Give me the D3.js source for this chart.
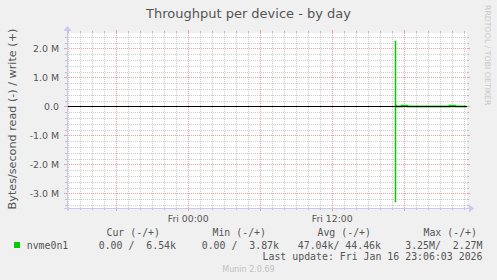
<!DOCTYPE html>
<html><head><meta charset="utf-8">
<script src="https://cdn.jsdelivr.net/npm/d3@7"></script>
<style>
html,body{margin:0;padding:0;background:#f0f0f0;}
svg{display:block;}
</style></head>
<body>
<svg id="chart" width="497" height="280"></svg>
<script>
// ---- data ----
const title = "Throughput per device - by day";
const yLabel = "Bytes/second read (-) / write (+)";
const timeDomain = ["2026-01-15T13:54:00Z", "2026-01-16T23:14:00Z"];
const yDomain = [-3.5e6, 2.53e6];
const yTickValues = [2e6, 1e6, 0, -1e6, -2e6, -3e6];
const yTickLabels = ["2.0 M", "1.0 M", "0.0", "-1.0 M", "-2.0 M", "-3.0 M"];
const xLabelTimes = ["2026-01-16T00:00:00Z", "2026-01-16T12:00:00Z"];
const xLabels = ["Fri 00:00", "Fri 12:00"];
// write (+) series, step values (value holds from time until next)
const writeTimes = ["2026-01-16T17:10:00Z","2026-01-16T17:15:00Z","2026-01-16T17:20:00Z","2026-01-16T17:45:00Z","2026-01-16T18:15:00Z","2026-01-16T21:45:00Z","2026-01-16T22:15:00Z","2026-01-16T23:10:00Z"];
const writeValues = [2.27e6, 0.05e6, 0.012e6, 0.035e6, 0.006e6, 0.04e6, 0.0065e6, 0.0065e6];
// read (-) series
const readTimes = ["2026-01-16T17:10:00Z","2026-01-16T17:15:00Z","2026-01-16T23:10:00Z"];
const readValues = [3.25e6, 0, 0];
const legendName = "nvme0n1";
const legendHeaders = ["Cur (-/+)", "Min (-/+)", "Avg (-/+)", "Max (-/+)"];
const legendValues = ["0.00 /  6.54k", "0.00 /  3.87k", "47.04k/ 44.46k", "3.25M/  2.27M"];
const lastUpdate = "Last update: Fri Jan 16 23:06:03 2026";
const footer = "Munin 2.0.69";
const watermark = "RRDTOOL / TOBI OETIKER";

// ---- drawing ----
const svg = d3.select("#chart");
const L = 67, R = 467, T = 33, B = 208;
const x = d3.scaleUtc().domain(timeDomain.map(d => new Date(d))).range([L, R]);
const y = d3.scaleLinear().domain(yDomain).range([B, T]);
const txt = "#555555";
const sans = "'DejaVu Sans', sans-serif";
const mono = "'DejaVu Sans Mono', monospace";

svg.append("rect").attr("width", 497).attr("height", 280).attr("fill", "#f0f0f0");
svg.append("rect").attr("x", L).attr("y", T).attr("width", R - L).attr("height", B - T).attr("fill", "#ffffff");

const minorCol = "#cccccc", majorCol = "#f0a0a0";
// horizontal grid
const yMinor = d3.range(-3.4e6, 2.5e6 + 1, 0.2e6).filter(v => Math.abs(v / 1e6 - Math.round(v / 1e6)) > 1e-6);
const gGrid = svg.append("g").attr("shape-rendering", "crispEdges");
yMinor.forEach(v => {
  const yy = Math.round(y(v)) + 0.5;
  gGrid.append("line").attr("x1", L).attr("x2", R).attr("y1", yy).attr("y2", yy)
    .attr("stroke", minorCol).attr("stroke-dasharray", "1,1");
  gGrid.append("line").attr("x1", L - 2).attr("x2", L).attr("y1", yy).attr("y2", yy).attr("stroke", "#c0c0c0");
  gGrid.append("line").attr("x1", R).attr("x2", R + 2).attr("y1", yy).attr("y2", yy).attr("stroke", "#c0c0c0");
});
// vertical minor grid every hour
const hours = d3.utcHour.range(x.domain()[0], x.domain()[1]).filter(d => d.getUTCHours() % 6 !== 0);
hours.forEach(d => {
  const xx = Math.round(x(d)) + 0.5;
  gGrid.append("line").attr("x1", xx).attr("x2", xx).attr("y1", T).attr("y2", B)
    .attr("stroke", minorCol).attr("stroke-dasharray", "1,1");
  gGrid.append("line").attr("x1", xx).attr("x2", xx).attr("y1", B).attr("y2", B + 2).attr("stroke", "#c0c0c0");
  gGrid.append("line").attr("x1", xx).attr("x2", xx).attr("y1", T - 2).attr("y2", T).attr("stroke", "#c0c0c0");
});
// major
yTickValues.forEach(v => {
  if (v === 0) return;
  const yy = Math.round(y(v)) + 0.5;
  gGrid.append("line").attr("x1", L).attr("x2", R).attr("y1", yy).attr("y2", yy)
    .attr("stroke", majorCol).attr("stroke-dasharray", "1,1");
  gGrid.append("line").attr("x1", L - 3).attr("x2", L).attr("y1", yy).attr("y2", yy).attr("stroke", majorCol);
  gGrid.append("line").attr("x1", R).attr("x2", R + 3).attr("y1", yy).attr("y2", yy).attr("stroke", majorCol);
});
const sixes = d3.utcHour.every(6).range(x.domain()[0], x.domain()[1]);
sixes.forEach(d => {
  const xx = Math.round(x(d)) + 0.5;
  gGrid.append("line").attr("x1", xx).attr("x2", xx).attr("y1", T).attr("y2", B)
    .attr("stroke", majorCol).attr("stroke-dasharray", "1,1");
  gGrid.append("line").attr("x1", xx).attr("x2", xx).attr("y1", B).attr("y2", B + 3).attr("stroke", majorCol);
  gGrid.append("line").attr("x1", xx).attr("x2", xx).attr("y1", T - 3).attr("y2", T).attr("stroke", majorCol);
});
{
  const yy = Math.round(y(0)) + 0.5;
  gGrid.append("line").attr("x1", L - 3).attr("x2", L).attr("y1", yy).attr("y2", yy).attr("stroke", majorCol);
  gGrid.append("line").attr("x1", R).attr("x2", R + 3).attr("y1", yy).attr("y2", yy).attr("stroke", majorCol);
}

// data lines
const green = "#00cc00";
const lineW = d3.line().x(d => Math.round(x(d[0])) + 0.5).y(d => Math.round(y(d[1])) + 0.5).curve(d3.curveStepAfter);
const wData = writeTimes.map((t, i) => [new Date(t), writeValues[i]]);
const rData = readTimes.map((t, i) => [new Date(t), -readValues[i]]);
svg.append("path").datum(rData).attr("d", lineW).attr("fill", "none").attr("stroke", green).attr("stroke-width", 1.5);
svg.append("path").datum(wData).attr("d", lineW).attr("fill", "none").attr("stroke", green).attr("stroke-width", 1.5);

// zero line
svg.append("line").attr("x1", L).attr("x2", R).attr("y1", Math.round(y(0)) + 0.5).attr("y2", Math.round(y(0)) + 0.5)
  .attr("stroke", "#000").attr("shape-rendering", "crispEdges");

// axes with arrows
const axisCol = "#c8c8f0";
svg.append("line").attr("x1", L - 3).attr("x2", R + 3).attr("y1", B + 0.5).attr("y2", B + 0.5).attr("stroke", axisCol).attr("shape-rendering", "crispEdges");
svg.append("line").attr("x1", L + 0.5).attr("x2", L + 0.5).attr("y1", B + 3).attr("y2", T - 3).attr("stroke", axisCol).attr("shape-rendering", "crispEdges");
svg.append("path").attr("d", `M${R + 2},${B - 3.5} L${R + 7},${B + 0.5} L${R + 2},${B + 4.5} Z`).attr("fill", axisCol);
svg.append("path").attr("d", `M${L - 3.5},${T - 2} L${L + 0.5},${T - 7} L${L + 4.5},${T - 2} Z`).attr("fill", axisCol);

// y tick labels
svg.append("g").selectAll("text").data(yTickValues).join("text")
  .attr("x", 59).attr("y", d => y(d) + 3.5).attr("text-anchor", "end")
  .attr("font-family", sans).attr("font-size", "9.4px").attr("fill", txt)
  .text((d, i) => yTickLabels[i]);
// x labels
svg.append("g").selectAll("text").data(xLabelTimes).join("text")
  .attr("x", d => x(new Date(d))).attr("y", 221.5).attr("text-anchor", "middle")
  .attr("font-family", sans).attr("font-size", "9.3px").attr("fill", txt)
  .text((d, i) => xLabels[i]);

// title
svg.append("text").attr("x", 248.5).attr("y", 18).attr("text-anchor", "middle")
  .attr("font-family", sans).attr("font-size", "13px").attr("fill", txt).text(title);
// y label
svg.append("text").attr("transform", "translate(16,119) rotate(-90)").attr("text-anchor", "middle")
  .attr("font-family", sans).attr("font-size", "11.2px").attr("fill", txt).text(yLabel);
// watermark
svg.append("text").attr("transform", "translate(485,5) rotate(90)").attr("text-anchor", "start")
  .attr("font-family", sans).attr("font-size", "7.8px").attr("fill", "#c8c8c8").text(watermark);

// legend
const headerEnds = [160, 266, 371, 477];
svg.append("g").selectAll("text").data(legendHeaders).join("text")
  .attr("x", (d, i) => headerEnds[i]).attr("y", 235.5).attr("text-anchor", "end")
  .attr("font-family", mono).attr("font-size", "9.9px").attr("fill", txt)
  .style("white-space", "pre").text(d => d);
const valueEnds = [176, 279, 381, 482.5];
svg.append("g").selectAll("text").data(legendValues).join("text")
  .attr("x", (d, i) => valueEnds[i]).attr("y", 248.5).attr("text-anchor", "end")
  .attr("font-family", mono).attr("font-size", "9.9px").attr("fill", txt)
  .style("white-space", "pre").text(d => d);
svg.append("rect").attr("x", 14).attr("y", 242).attr("width", 6).attr("height", 6).attr("fill", green);
svg.append("text").attr("x", 26.7).attr("y", 248.5).attr("font-family", mono).attr("font-size", "9.9px").attr("fill", txt).text(legendName);
svg.append("text").attr("x", 482.5).attr("y", 260).attr("text-anchor", "end")
  .attr("font-family", mono).attr("font-size", "9.9px").attr("fill", txt).text(lastUpdate);
svg.append("text").attr("x", 248.5).attr("y", 271.5).attr("text-anchor", "middle")
  .attr("font-family", sans).attr("font-size", "8px").attr("fill", "#c0c0c0").text(footer);
</script>
</body></html>
